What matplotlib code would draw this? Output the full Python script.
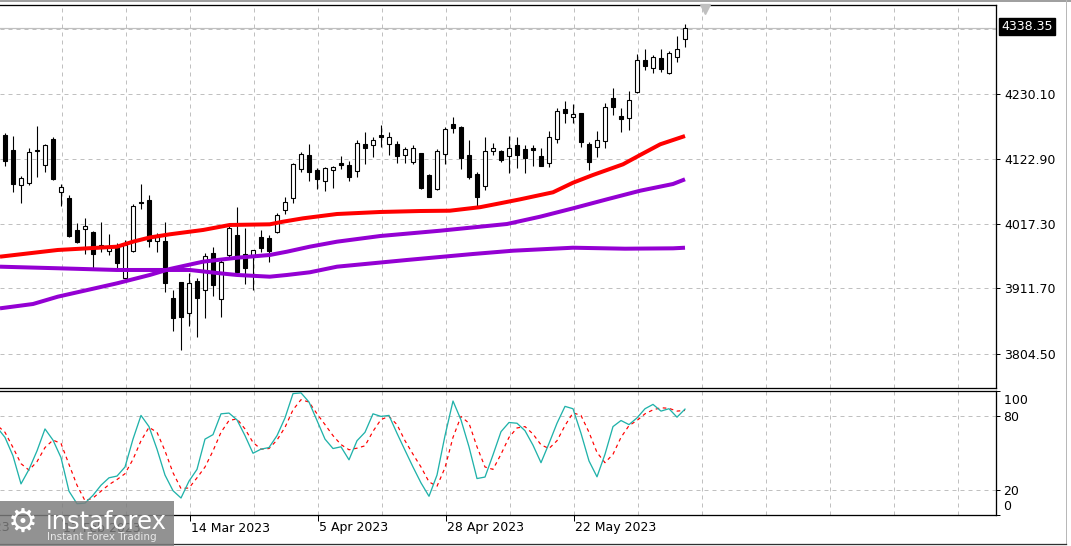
import matplotlib
matplotlib.use("Agg")
import matplotlib.pyplot as plt
from matplotlib.patches import Rectangle
from matplotlib.lines import Line2D

W, H = 1071, 546

# ---------------- data (daily candles, bar index 0..85) ----------------
opens = [4162.9, 4138.3, 4080.4, 4083.7, 4137.1, 4113.2, 4156.3, 4068.9, 4059.1, 4007.1,
         4008.2, 4003.3, 3980.9, 3972.7, 3978.7, 3928.9, 3972.7, 4053.0, 4056.3, 3989.1,
         3989.1, 3895.1, 3921.8, 3870.5, 3923.5, 3908.2, 3969.4, 3893.4, 3965.6, 3998.9,
         3967.2, 3966.1, 3996.1, 3993.5, 4003.3, 4039.4, 4059.1, 4106.6, 4130.1, 4105.0,
         4087.5, 4105.5, 4116.5, 4113.7, 4104.3, 4148.1, 4146.0, 4162.9, 4147.6, 4147.6,
         4129.6, 4119.1, 4133.9, 4096.8, 4074.3, 4131.2, 4180.9, 4176.0, 4130.1, 4098.9,
         4079.8, 4137.1, 4136.6, 4128.9, 4146.0, 4139.4, 4141.6, 4128.4, 4116.5, 4155.8,
         4205.5, 4191.9, 4198.5, 4148.1, 4143.7, 4152.5, 4223.1, 4194.0, 4190.3, 4232.9,
         4285.9, 4273.2, 4288.7, 4265.0, 4291.3, 4319.8]
highs = [4165.6, 4161.2, 4095.6, 4141.1, 4177.6, 4148.1, 4160.1, 4082.0, 4064.5, 4018.1,
         4026.3, 4005.9, 4020.2, 4000.0, 3986.3, 3990.7, 4049.7, 4083.0, 4064.5, 4001.7,
         4020.7, 3908.7, 3922.3, 3936.1, 3927.9, 3969.9, 3979.7, 3959.5, 4015.3, 4045.3,
         4009.9, 3973.8, 4006.6, 3998.9, 4034.5, 4060.7, 4117.0, 4134.5, 4147.6, 4109.3,
         4111.0, 4112.6, 4128.9, 4120.7, 4154.7, 4167.3, 4159.1, 4179.3, 4168.3, 4153.1,
         4143.7, 4146.5, 4133.9, 4098.9, 4139.4, 4175.5, 4191.9, 4177.6, 4154.7, 4102.2,
         4160.1, 4149.3, 4138.3, 4161.7, 4159.1, 4146.5, 4146.5, 4141.1, 4169.4, 4206.7,
         4218.6, 4213.2, 4199.4, 4151.9, 4169.4, 4215.9, 4240.4, 4206.7, 4235.5, 4295.2,
         4303.4, 4294.1, 4303.9, 4301.1, 4325.2, 4344.9]
lows = [4112.0, 4069.9, 4051.8, 4080.4, 4094.5, 4102.2, 4089.1, 4046.9, 3996.1, 3986.3,
        3967.2, 3944.3, 3971.0, 3966.1, 3944.3, 3927.9, 3971.5, 4041.0, 3979.7, 3971.5,
        3905.9, 3842.0, 3809.8, 3850.2, 3832.1, 3862.3, 3898.9, 3864.9, 3961.2, 3936.5,
        3918.0, 3908.7, 3971.5, 3954.1, 4001.7, 4033.8, 4050.9, 4102.7, 4088.0, 4074.3,
        4071.5, 4075.5, 4106.6, 4088.0, 4093.5, 4115.3, 4127.3, 4143.7, 4130.1, 4117.5,
        4116.5, 4115.3, 4074.3, 4060.7, 4072.7, 4115.3, 4166.7, 4106.6, 4090.7, 4045.3,
        4072.7, 4130.1, 4119.1, 4101.0, 4109.3, 4100.1, 4112.6, 4112.6, 4111.0, 4150.2,
        4182.0, 4182.0, 4143.7, 4105.5, 4127.3, 4141.1, 4195.7, 4168.3, 4171.1, 4231.3,
        4269.5, 4265.0, 4266.7, 4262.9, 4283.1, 4307.7]
closes = [4120.7, 4082.0, 4091.9, 4134.5, 4138.3, 4146.0, 4090.7, 4078.1, 3997.8, 3987.9,
          4013.2, 3968.2, 3981.6, 3979.7, 3953.5, 3982.0, 4046.5, 4050.9, 3989.6, 3995.1,
          3919.7, 3862.3, 3863.9, 3919.7, 3896.1, 3964.0, 3916.9, 3955.1, 4009.9, 3938.7,
          3945.3, 3973.8, 3978.1, 3973.2, 4031.7, 4053.5, 4114.8, 4131.2, 4101.7, 4090.7,
          4108.3, 4111.0, 4113.7, 4094.5, 4149.3, 4142.1, 4154.7, 4160.1, 4159.1, 4128.9,
          4139.4, 4141.1, 4076.5, 4061.7, 4137.1, 4172.2, 4174.9, 4124.7, 4093.5, 4061.7,
          4136.6, 4141.1, 4121.9, 4141.1, 4130.1, 4125.6, 4137.8, 4112.6, 4159.1, 4202.2,
          4198.5, 4196.8, 4150.9, 4118.1, 4154.2, 4208.3, 4208.3, 4188.6, 4220.3, 4285.9,
          4276.5, 4290.3, 4271.1, 4297.8, 4303.4, 4338.35]
last_price = 4338.35

# moving averages (bar index, price)
ma_red_idx = [-0.625, 6.6, 14, 16, 18.1, 20.6, 24.75, 28.1, 33.1, 34.75, 37.25, 41.5, 46.9,
              51.9, 55.6, 59.4, 61.9, 64.4, 68.5, 71, 73.5, 77.25, 79.4, 81.9, 85]
ma_red_val = [3963.3, 3974.3, 3979.7, 3987.9, 3994.8, 4000.0, 4007.1, 4015.3, 4016.4, 4020.7,
              4026.2, 4033.3, 4036.6, 4038.2, 4038.7, 4044.5, 4050.9, 4057.4, 4068.9, 4084.6,
              4097.3, 4114.8, 4130.1, 4147.6, 4161.2]
ma_mid_idx = [-0.625, 3.5, 6.6, 14, 18.1, 20.6, 24.75, 29, 33.1, 35.25, 38.1, 41.5, 46.9,
              54.4, 62.75, 66.9, 71, 75.25, 79.4, 83.5, 85]
ma_mid_val = [3878.6, 3885.7, 3897.7, 3919.6, 3933.3, 3943.1, 3955.1, 3961.6, 3966.1, 3971.5,
              3979.7, 3987.9, 3997.2, 4005.9, 4016.9, 4028.9, 4042.6, 4057.4, 4071.5, 4082.5,
              4090.2]
ma_slow_idx = [-0.625, 6.6, 14, 20.25, 23.1, 26.9, 29, 33.1, 35.25, 38.1, 41.5, 50.25, 58.5,
               63.5, 71, 77.5, 83.5, 85]
ma_slow_val = [3946.9, 3944.3, 3941.5, 3941.5, 3941.5, 3936.0, 3933.3, 3930.5, 3933.3, 3937.7,
               3946.9, 3957.9, 3967.7, 3973.1, 3978.0, 3976.4, 3977.0, 3978.0]

# stochastic oscillator, bars -1..85
stoch_k = [70.7, 62.6, 47.7, 25.1, 36.8, 51.7, 69.4, 60.4, 46.3, 19.2, 9.1,
           9.6, 15.9, 24.0, 30.0, 31.4, 38.7, 61.2, 80.3, 71.3, 53.1,
           32.2, 19.6, 13.7, 27.3, 36.8, 61.2, 64.8, 81.6, 82.2, 76.7,
           64.0, 49.8, 53.1, 54.4, 64.0, 78.3, 97.9, 98.5, 91.1, 76.2,
           61.2, 53.6, 55.0, 44.5, 59.9, 66.7, 81.6, 79.5, 80.3, 65.9,
           52.2, 38.7, 25.9, 15.1, 32.2, 64.0, 91.9, 76.7, 55.0, 29.4,
           30.6, 48.5, 67.2, 74.6, 74.0, 68.0, 56.3, 42.2, 57.7, 74.0,
           87.6, 85.7, 65.9, 43.6, 30.8, 49.0, 71.3, 76.2, 72.9, 78.3,
           85.7, 89.2, 83.8, 85.7, 78.9, 85.4]
stoch_d = [72.4, 66.7, 54.4, 41.4, 36.2, 43.0, 54.4, 60.4, 57.7, 40.8, 24.0,
           11.5, 13.7, 19.2, 24.5, 28.6, 33.3, 44.9, 59.9, 70.7, 66.7,
           51.7, 34.1, 21.3, 21.8, 30.0, 38.7, 51.7, 66.7, 76.2, 77.5,
           69.4, 58.5, 53.1, 53.6, 60.4, 70.7, 84.8, 93.0, 91.1, 81.6,
           72.9, 64.0, 56.8, 52.6, 53.9, 55.8, 67.5, 77.0, 79.5, 72.9,
           59.9, 49.0, 38.7, 26.7, 23.2, 38.1, 62.6, 79.5, 74.0, 55.0,
           38.7, 36.8, 49.0, 62.6, 70.2, 71.3, 65.3, 56.6, 53.6, 59.9,
           72.1, 82.4, 80.3, 66.7, 50.4, 42.2, 49.0, 62.6, 72.1, 76.2,
           81.6, 84.8, 86.5, 86.0, 83.8, 84.3]

price_ticks = [4230.10, 4122.90, 4017.30, 3911.70, 3804.50]
price_top_grid = 4337.30
date_labels = ["26 Jan 2023", "17 Feb 2023", "14 Mar 2023", "5 Apr 2023",
               "28 Apr 2023", "22 May 2023"]
date_pos = [-8.875, 7.125, 23.125, 39.125, 55.125, 71.125]
stoch_levels = [80, 20]

# ---------------- layout ----------------
PX = 0.72  # one pixel in points at dpi 100
fig = plt.figure(figsize=(W / 100, H / 100), dpi=100)
fig.patch.set_facecolor("white")

def fx(x):
    return x / W

def fy(y):
    return 1 - y / H

ax = fig.add_axes([0, fy(388), fx(996), (388 - 5) / H])
ax2 = fig.add_axes([0, fy(515), fx(996), (515 - 391) / H])

XMIN, XMAX = -0.625, 123.875

grid_kw = dict(color="#c0c0c0", lw=PX, ls=(0, (4, 4)), zorder=0)
vgrid = [7.125 + 8 * k for k in range(15)]
for a in (ax, ax2):
    for v in vgrid:
        a.axvline(v, **grid_kw)
for p in price_ticks + [price_top_grid]:
    ax.axhline(p, **grid_kw)
for lv in stoch_levels:
    ax2.axhline(lv, **grid_kw)

# current price line
ax.axhline(last_price, color="#c0c0c0", lw=PX * 1.2, zorder=0.5)

# candles
n = len(closes)
idx = list(range(n))
ax.vlines(idx, lows, highs, color="black", lw=PX * 1.1, zorder=2)
for i in idx:
    o, c = opens[i], closes[i]
    bottom = min(o, c)
    h = max(abs(c - o), 0.8)
    fc = "white" if c >= o else "black"
    ax.add_patch(Rectangle((i - 0.27, bottom), 0.54, h, facecolor=fc,
                           edgecolor="black", lw=PX * 1.1, zorder=3))

# moving averages
ax.plot(ma_slow_idx, ma_slow_val, color="#9400d3", lw=PX * 4, zorder=4,
        solid_capstyle="butt")
ax.plot(ma_mid_idx, ma_mid_val, color="#9400d3", lw=PX * 4, zorder=4,
        solid_capstyle="butt")
ax.plot(ma_red_idx, ma_red_val, color="#ff0000", lw=PX * 4, zorder=5,
        solid_capstyle="butt")

# small marker at top
ax.plot([87.5], [4369.0], marker="v", color="#c0c0c0", markersize=7, zorder=6,
        clip_on=False)

# stochastic
sidx = list(range(-1, n))
ax2.plot(sidx, stoch_d, color="#ff0000", lw=PX * 1.2, ls=(0, (3, 3)), zorder=3)
ax2.plot(sidx, stoch_k, color="#20b2aa", lw=PX * 1.3, zorder=4)

# spines / ticks
for a in (ax, ax2):
    a.set_facecolor("white")
    a.spines["left"].set_visible(False)
    for s in ("top", "right", "bottom"):
        a.spines[s].set_linewidth(PX * 1.3)
        a.spines[s].set_color("black")
    a.yaxis.tick_right()

ax.set_xticks([])
ax.set_yticks(price_ticks)
ax.set_yticklabels([f"{p:.2f}" for p in price_ticks])
ax.tick_params(axis="y", length=3, width=PX, pad=3, labelsize=9, colors="black")

ax2.set_yticks([100] + stoch_levels + [0])
ax2.set_yticklabels([""] + [str(v) for v in stoch_levels] + [""])
ax2.tick_params(axis="y", length=3, width=PX, pad=2, labelsize=9)
ax2.text(1.0, 92.4, "  100", transform=ax2.get_yaxis_transform(), ha="left",
         va="center", fontsize=9, clip_on=False)
ax2.text(1.0, 7.0, "  0", transform=ax2.get_yaxis_transform(), ha="left",
         va="center", fontsize=9, clip_on=False)

ax2.set_xticks(date_pos)
ax2.set_xticklabels([""] * len(date_pos))
ax2.tick_params(axis="x", length=4, width=PX, direction="out")

# limits last (set_xticks can widen the view)
ax.set_xlim(XMIN, XMAX)
ax.set_ylim(3747.94, 4376.06)
ax2.set_xlim(XMIN, XMAX)
ax2.set_ylim(0, 100)

# date labels (left aligned at tick)
for lab, pos in zip(date_labels, date_pos):
    xp = 5 + 8 * pos + 1
    fig.text(fx(xp), fy(528), lab, ha="left", va="center", fontsize=9,
             color="black")

# current price box
fig.text(fx(1001), fy(26.5), f"{last_price:.2f}", ha="left", va="center",
         fontsize=9, color="white",
         bbox=dict(boxstyle="square,pad=0.18", facecolor="black", edgecolor="black"))

# window frame lines
fig.add_artist(Line2D([0, 1], [fy(1), fy(1)], color="#a0a0a0", lw=PX * 2,
                      transform=fig.transFigure))
fig.add_artist(Line2D([fx(1066), fx(1066)], [fy(0), fy(544)], color="#b8b8b8",
                      lw=PX, transform=fig.transFigure))
fig.add_artist(Line2D([0, fx(1066)], [fy(544), fy(544)], color="#303030",
                      lw=PX * 1.3, transform=fig.transFigure))

# logo watermark (semi-transparent, date label shows faintly through it)
fig.add_artist(Rectangle((0, fy(546)), fx(174), (546 - 501) / H,
                         transform=fig.transFigure, facecolor="#7d7d7d",
                         edgecolor="none", alpha=0.84, zorder=10))
fig.text(fx(23), fy(522), "\u2699", ha="center", va="center", fontsize=24,
         color="white", zorder=11, family="DejaVu Sans")
fig.text(fx(46), fy(529), "instaforex", ha="left", va="baseline", fontsize=17.5,
         color="white", zorder=11, family="DejaVu Sans")
fig.text(fx(47), fy(537.5), "Instant Forex Trading", ha="left", va="center",
         fontsize=7.5, color="#e8e8e8", zorder=11, family="DejaVu Sans")

fig.savefig("out.png", dpi=100, facecolor="white")
